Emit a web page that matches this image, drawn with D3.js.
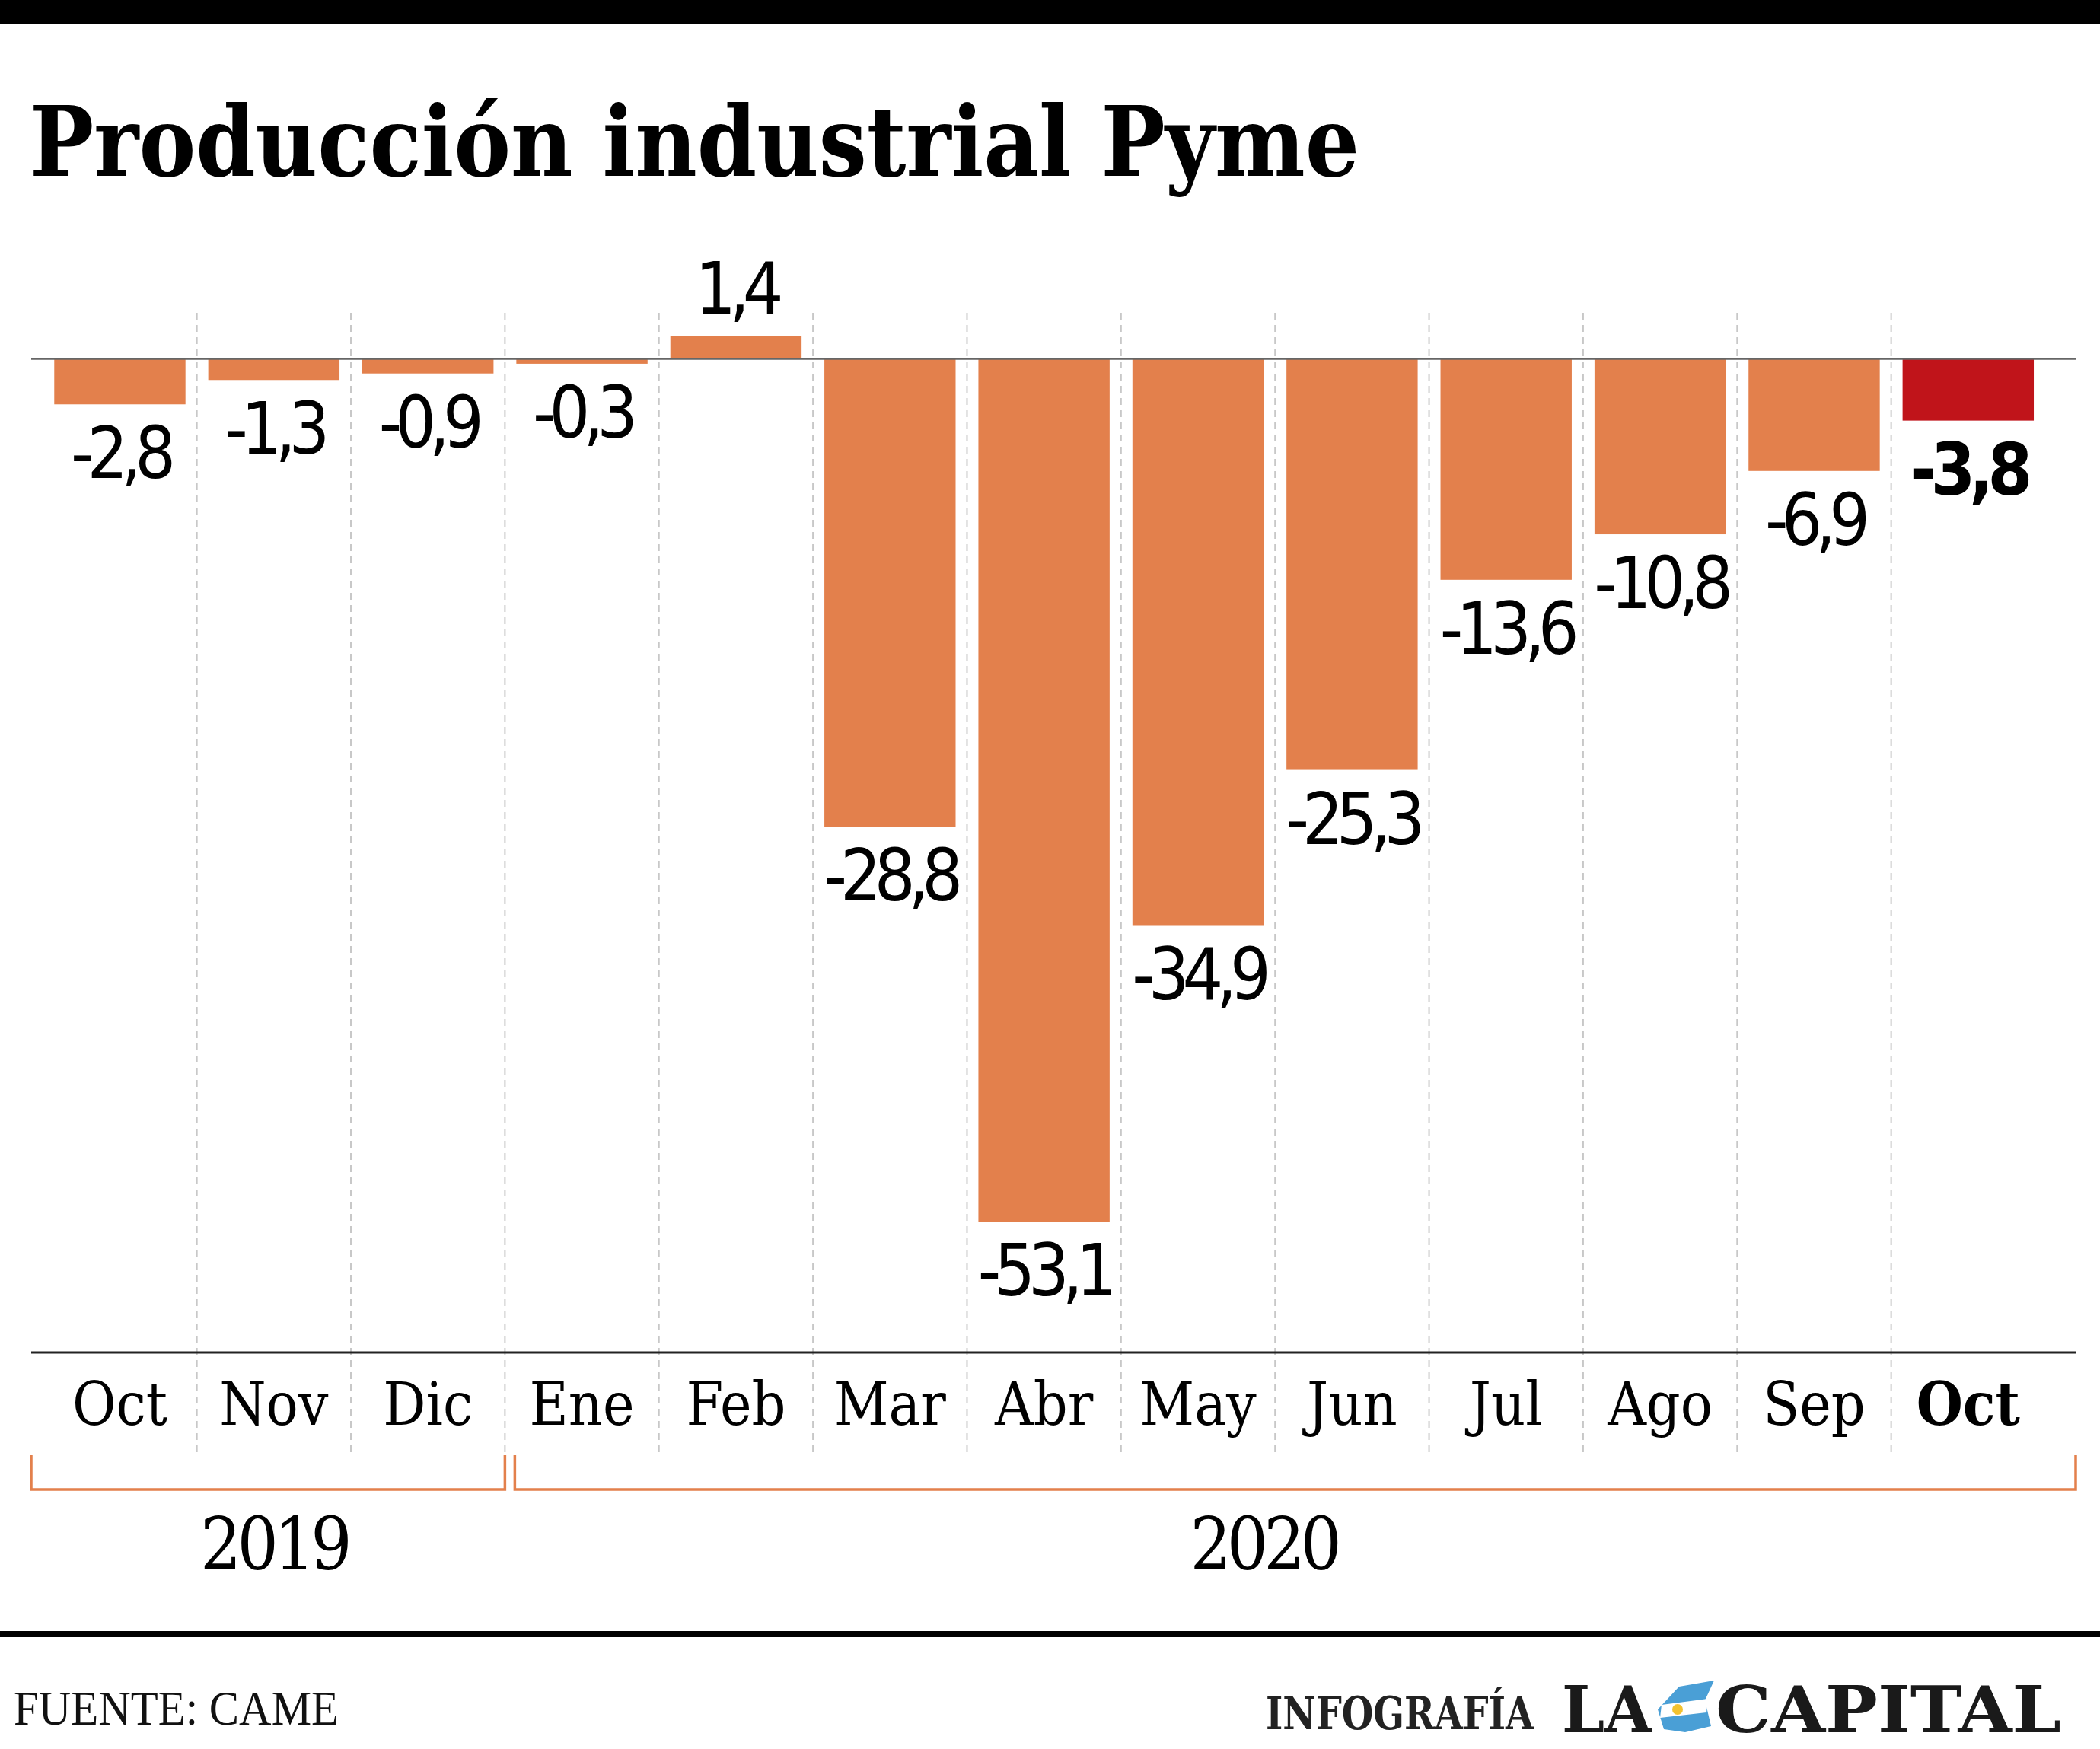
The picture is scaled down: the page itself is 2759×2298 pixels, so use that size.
<!DOCTYPE html>
<html>
<head>
<meta charset="utf-8">
<script src="https://cdn.jsdelivr.net/npm/d3@7"></script>
<style>
  html, body { margin: 0; padding: 0; background: #fff; }
  svg { display: block; }
</style>
</head>
<body>
<div id="chart"></div>
<script>
const months = ["Oct", "Nov", "Dic", "Ene", "Feb", "Mar", "Abr", "May", "Jun", "Jul", "Ago", "Sep", "Oct"];
const values = [-2.8, -1.3, -0.9, -0.3, 1.4, -28.8, -53.1, -34.9, -25.3, -13.6, -10.8, -6.9, -3.8];
const yearLabels = ["2019", "2020"];
const yearStart = [0, 3];
const yearEnd = [3, 13];
const highlight = 12;

const width = 2759;
const height = 2298;
const lineLeft = 41;
const lineRight = 2727;

const orange = "#e3804c";
const red = "#c0141a";

const locale = d3.formatLocale({
  decimal: ",",
  thousands: ".",
  grouping: [3],
  currency: ["$", ""],
  minus: "-",
});
const fmt = locale.format(".1f");

const svg = d3
  .select("#chart")
  .append("svg")
  .attr("width", width)
  .attr("height", height);

svg.append("rect").attr("width", width).attr("height", height).attr("fill", "#fff");

// top and bottom rules
svg.append("rect").attr("x", 0).attr("y", 0).attr("width", width).attr("height", 32).attr("fill", "#000");
svg.append("rect").attr("x", 0).attr("y", 2143).attr("width", width).attr("height", 8).attr("fill", "#000");

// title
svg
  .append("text")
  .attr("x", 39)
  .attr("y", 231)
  .attr("font-family", "DejaVu Serif Condensed, DejaVu Serif")
  .attr("font-weight", "bold")
  .attr("font-size", 127)
  .attr("textLength", 1747)
  .attr("lengthAdjust", "spacingAndGlyphs")
  .attr("fill", "#000")
  .text("Producción industrial Pyme");

const x = d3
  .scaleBand()
  .domain(d3.range(months.length))
  .range([56.3, 2687])
  .paddingInner(0.148)
  .paddingOuter(0.074);

const y = d3.scaleLinear().domain([0, -53.1]).range([471.5, 1605]);

const step = x.step();
const colLeft = (i) => x.range()[0] + i * step;
const colCenter = (i) => x(i) + x.bandwidth() / 2;

// dashed column separators
svg
  .append("g")
  .selectAll("line")
  .data(d3.range(1, months.length))
  .enter()
  .append("line")
  .attr("x1", (i) => colLeft(i))
  .attr("x2", (i) => colLeft(i))
  .attr("y1", 411)
  .attr("y2", 1911)
  .attr("stroke", "#c8c8c8")
  .attr("stroke-width", 2)
  .attr("stroke-dasharray", "9,7");

// bars
svg
  .append("g")
  .selectAll("rect")
  .data(values)
  .enter()
  .append("rect")
  .attr("x", (d, i) => x(i))
  .attr("width", x.bandwidth())
  .attr("y", (d) => Math.min(y(d), y(0)))
  .attr("height", (d) => Math.abs(y(d) - y(0)))
  .attr("fill", (d, i) => (i === highlight ? red : orange));

// zero line
svg
  .append("line")
  .attr("x1", lineLeft)
  .attr("x2", lineRight)
  .attr("y1", y(0))
  .attr("y2", y(0))
  .attr("stroke", "#666")
  .attr("stroke-width", 2.5);

// value labels
svg
  .append("g")
  .selectAll("text")
  .data(values)
  .enter()
  .append("text")
  .attr("x", (d, i) => colCenter(i))
  .attr("y", (d) => (d >= 0 ? y(d) - 30 : y(d) + 97))
  .attr("text-anchor", "middle")
  .attr("font-family", "DejaVu Sans Condensed, DejaVu Sans")
  .attr("font-size", 94)
  .attr("font-weight", (d, i) => (i === highlight ? "bold" : "normal"))
  .attr("letter-spacing", (d, i) => (i === highlight ? -8 : -9))
  .attr("fill", "#000")
  .text((d) => fmt(d));

// bottom axis
const axisY = 1777;
svg
  .append("line")
  .attr("x1", lineLeft)
  .attr("x2", lineRight)
  .attr("y1", axisY)
  .attr("y2", axisY)
  .attr("stroke", "#222")
  .attr("stroke-width", 3);

const xAxis = d3
  .axisBottom(x)
  .tickSize(0)
  .tickPadding(0)
  .tickFormat((i) => months[i]);

const axisG = svg
  .append("g")
  .attr("transform", `translate(0,${axisY})`)
  .call(xAxis);

axisG.select(".domain").remove();
axisG
  .selectAll(".tick text")
  .attr("y", 95)
  .attr("dy", null)
  .attr("font-family", "DejaVu Serif Condensed, DejaVu Serif")
  .attr("font-size", 78)
  .attr("font-weight", (i) => (i === highlight ? "bold" : "normal"))
  .attr("fill", "#000");

// year brackets
const bracketTop = 1912;
const bracketY = 1957;
const bracketLeft = [lineLeft, colLeft(3) + 13];
const bracketRight = [colLeft(3), lineRight];

svg
  .append("g")
  .selectAll("path")
  .data(yearLabels)
  .enter()
  .append("path")
  .attr(
    "d",
    (d, k) =>
      `M${bracketLeft[k]},${bracketTop}V${bracketY}H${bracketRight[k]}V${bracketTop}`
  )
  .attr("fill", "none")
  .attr("stroke", orange)
  .attr("stroke-width", 3.5);

svg
  .append("g")
  .selectAll("text")
  .data(yearLabels)
  .enter()
  .append("text")
  .attr("x", (d, k) => (colLeft(yearStart[k]) + colLeft(yearEnd[k])) / 2 - (k === 1 ? 15 : 0))
  .attr("y", 2062)
  .attr("text-anchor", "middle")
  .attr("font-family", "DejaVu Serif Condensed, DejaVu Serif")
  .attr("font-size", 95)
  .attr("letter-spacing", -6)
  .attr("fill", "#000")
  .text((d) => d);

// source
svg
  .append("text")
  .attr("x", 18)
  .attr("y", 2266)
  .attr("font-family", "Liberation Serif")
  .attr("font-size", 64)
  .attr("textLength", 427)
  .attr("lengthAdjust", "spacingAndGlyphs")
  .attr("fill", "#111")
  .text("FUENTE: CAME");

// credit
const logo = svg.append("g");
logo
  .append("text")
  .attr("x", 1663)
  .attr("y", 2272)
  .attr("font-family", "DejaVu Serif Condensed, DejaVu Serif")
  .attr("font-weight", "bold")
  .attr("font-size", 60)
  .attr("textLength", 352)
  .attr("lengthAdjust", "spacingAndGlyphs")
  .attr("fill", "#222")
  .text("INFOGRAFÍA");

logo
  .append("text")
  .attr("x", 2052)
  .attr("y", 2276)
  .attr("font-family", "DejaVu Serif Condensed, DejaVu Serif")
  .attr("font-weight", "bold")
  .attr("font-size", 84)
  .attr("textLength", 118)
  .attr("lengthAdjust", "spacingAndGlyphs")
  .attr("fill", "#1a1a1a")
  .text("LA");

logo
  .append("text")
  .attr("x", 2254)
  .attr("y", 2276)
  .attr("font-family", "DejaVu Serif Condensed, DejaVu Serif")
  .attr("font-weight", "bold")
  .attr("font-size", 84)
  .attr("textLength", 454)
  .attr("lengthAdjust", "spacingAndGlyphs")
  .attr("fill", "#1a1a1a")
  .text("CAPITAL");

// little flag emblem between LA and CAPITAL
const flag = logo.append("g").attr("transform", "translate(2178,2208)");
flag.append("path").attr("d", "M28,8 L74,0 L62,26 L70,60 L36,68 L8,64 L0,38 Z").attr("fill", "#4a9fd6");
flag.append("path").attr("d", "M5,32 L66,24 L64,42 L3,49 Z").attr("fill", "#fff");
flag.append("circle").attr("cx", 26).attr("cy", 38).attr("r", 7).attr("fill", "#f2c230");
</script>
</body>
</html>
